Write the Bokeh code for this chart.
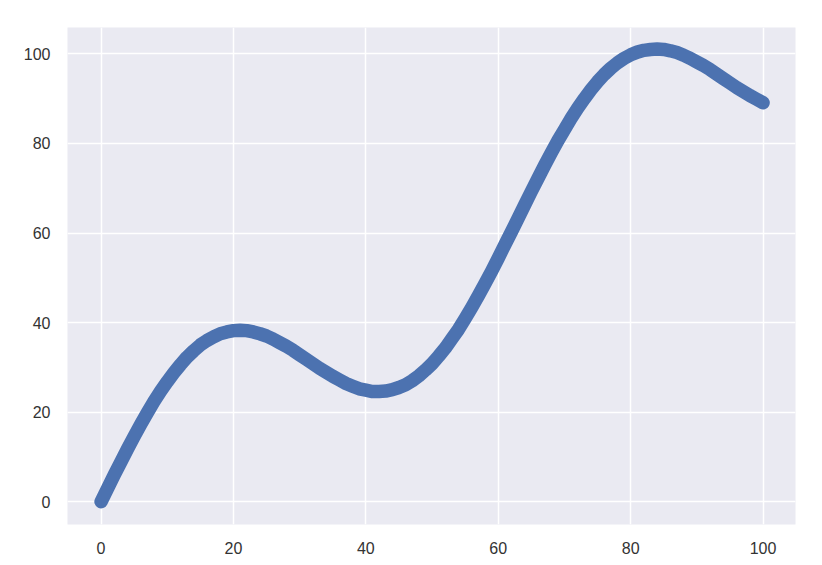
from bokeh.plotting import figure
from bokeh.models import Range1d, FixedTicker
from bokeh.embed import file_html
from bokeh.resources import INLINE

x_vals = list(range(0, 101))
y_vals = [
    0.0, 3.0, 6.0, 8.9, 11.8, 14.6, 17.3, 19.9, 22.4, 24.7,
    26.8, 28.8, 30.6, 32.3, 33.7, 35.0, 36.0, 36.8, 37.5, 37.9,
    38.2, 38.3, 38.2, 37.9, 37.5, 37.0, 36.3, 35.5, 34.7, 33.8,
    32.8, 31.8, 30.8, 29.8, 28.9, 28.0, 27.2, 26.4, 25.8, 25.2,
    24.9, 24.6, 24.6, 24.7, 25.0, 25.5, 26.1, 27.0, 28.1, 29.4,
    30.8, 32.5, 34.3, 36.4, 38.5, 40.9, 43.4, 46.0, 48.7, 51.5,
    54.4, 57.4, 60.3, 63.3, 66.3, 69.3, 72.2, 75.1, 77.9, 80.6,
    83.1, 85.6, 87.9, 90.0, 92.0, 93.8, 95.4, 96.8, 98.0, 99.0,
    99.8, 100.4, 100.8, 101.0, 101.1, 101.0, 100.7, 100.3, 99.7, 99.0,
    98.2, 97.4, 96.5, 95.5, 94.5, 93.5, 92.5, 91.6, 90.7, 89.9,
    89.1,
]
x_ticks = [0, 20, 40, 60, 80, 100]
y_ticks = [0, 20, 40, 60, 80, 100]

p = figure(
    frame_width=728, frame_height=497,
    x_range=Range1d(-5.07, 104.9), y_range=Range1d(-5.1, 105.9),
    output_backend="svg", toolbar_location=None,
    background_fill_color="#EAEAF2", border_fill_color="white",
    min_border_left=67, min_border_top=27, min_border_right=12, min_border_bottom=20,
)
p.outline_line_color = None

p.line(x_vals, y_vals, line_width=13.5, line_color="#4C72B0",
       line_cap="round", line_join="round")

for ax in (p.xaxis, p.yaxis):
    ax.axis_line_color = None
    ax.major_tick_line_color = None
    ax.minor_tick_line_color = None
    ax.major_label_text_font = "Liberation Sans"
    ax.major_label_text_font_size = "16px"
    ax.major_label_text_color = "#333333"
    ax.major_label_standoff = 11

p.xaxis.ticker = FixedTicker(ticks=x_ticks)
p.yaxis.ticker = FixedTicker(ticks=y_ticks)

p.grid.grid_line_color = "white"
p.grid.grid_line_width = 1.5

open("out.html", "w").write(file_html(p, INLINE))
